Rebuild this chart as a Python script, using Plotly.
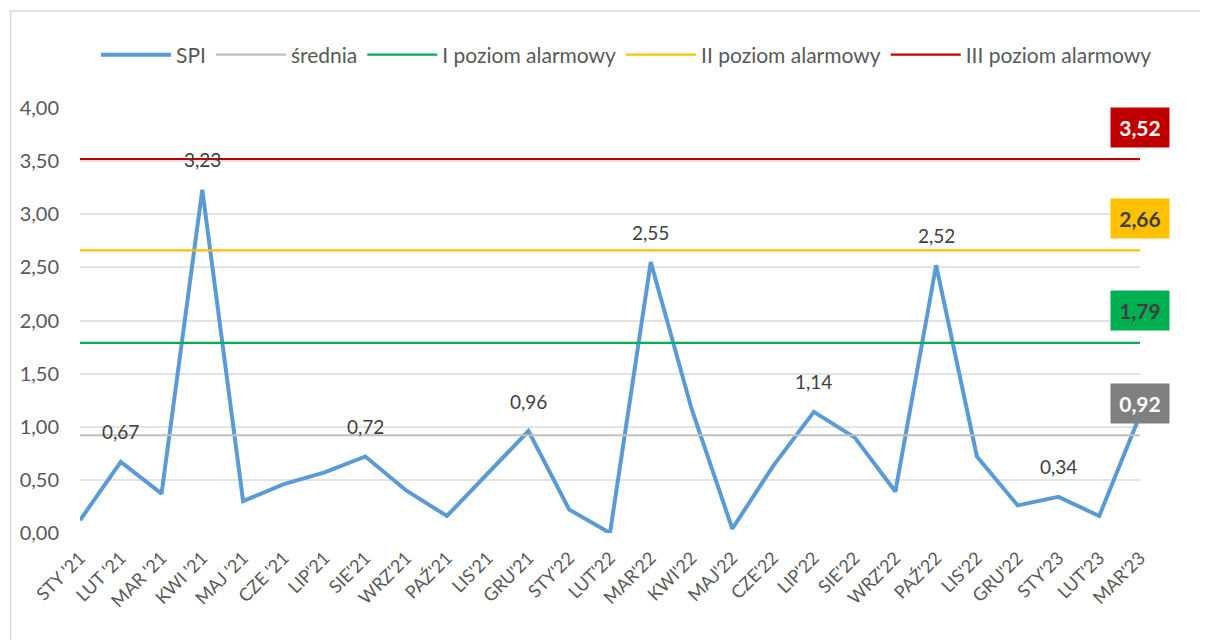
import plotly.graph_objects as go

months = ["STY '21", "LUT '21", "MAR '21", "KWI '21", "MAJ '21", "CZE '21", "LIP'21", "SIE'21",
          "WRZ'21", "PAŹ'21", "LIS'21", "GRU'21", "STY'22", "LUT'22", "MAR'22", "KWI'22",
          "MAJ'22", "CZE'22", "LIP'22", "SIE'22", "WRZ'22", "PAŹ'22", "LIS'22", "GRU'22",
          "STY'23", "LUT'23", "MAR'23"]
spi = [0.12, 0.67, 0.37, 3.23, 0.30, 0.46, 0.57, 0.72, 0.40, 0.16, 0.56, 0.96, 0.22, 0.00,
       2.55, 1.17, 0.04, 0.63, 1.14, 0.90, 0.39, 2.52, 0.72, 0.26, 0.34, 0.16, 1.11]
labeled_idx = [1, 3, 7, 11, 14, 18, 21, 24]

levels_names = ["średnia", "I poziom alarmowy", "II poziom alarmowy", "III poziom alarmowy"]
levels_values = [0.92, 1.79, 2.66, 3.52]
levels_colors = ["#BFBFBF", "#00B050", "#FFC000", "#C00000"]
box_colors = ["#808080", "#00B050", "#FFC000", "#C00000"]
box_text_colors = ["#FFFFFF", "#404040", "#404040", "#FFFFFF"]

FONT = "Lato, Noto Sans, sans-serif"
TXT = "#595959"

def fmt(v):
    return f"{v:.2f}".replace(".", ",")

fig = go.Figure()
fig.add_trace(go.Scatter(x=months, y=spi, mode="lines", name="SPI",
                         line=dict(color="#5B9BD5", width=4)))
for name, val, col in zip(levels_names, levels_values, levels_colors):
    fig.add_trace(go.Scatter(x=[months[0], months[-1]], y=[val, val], mode="lines",
                             name=name, line=dict(color=col, width=2.2)))

annotations = []
for i in labeled_idx:
    annotations.append(dict(x=months[i], y=spi[i], text=fmt(spi[i]), showarrow=False,
                            yshift=30, font=dict(family=FONT, size=19, color="#404040")))
for val, bc, tc in zip(levels_values, box_colors, box_text_colors):
    annotations.append(dict(x=months[-1], y=val, text="<b>" + fmt(val) + "</b>", showarrow=False,
                            yshift=32, bgcolor=bc, width=56, height=37,
                            font=dict(family=FONT, size=21, color=tc)))

fig.update_layout(
    width=1208, height=640,
    paper_bgcolor="white", plot_bgcolor="white",
    margin=dict(l=70, r=76, t=100, b=115),
    separators=", ",
    font=dict(family=FONT, color=TXT),
    showlegend=True,
    legend=dict(orientation="h", xref="container", yref="container",
                x=0.512, xanchor="center", y=1 - 47 / 640, yanchor="middle",
                font=dict(family=FONT, size=21, color=TXT), itemwidth=70,
                traceorder="normal"),
    xaxis=dict(type="category", categoryorder="array", categoryarray=months,
               range=[0, len(months) - 1], showgrid=False, showline=False, ticks="",
               tickangle=-45, tickfont=dict(family=FONT, size=18, color=TXT),
               ticklabelstandoff=10),
    yaxis=dict(range=[0, 4], dtick=0.5, tickformat=".2f", showgrid=True,
               gridcolor="#E3E3E3", gridwidth=1.5, zeroline=False, showline=False,
               tickfont=dict(family=FONT, size=20, color=TXT), ticklabelstandoff=20),
    annotations=annotations,
    shapes=[dict(type="rect", xref="paper", yref="paper", x0=-0.0655, x1=1.2, y0=-0.5, y1=1.228,
                 line=dict(color="#D9D9D9", width=1.5), layer="below")],
)

fig.write_html("out.html")
